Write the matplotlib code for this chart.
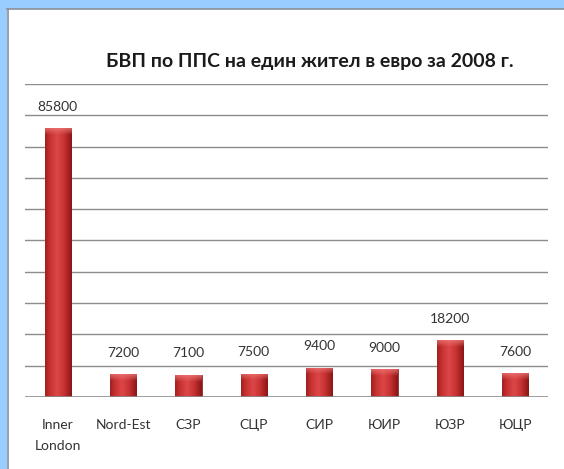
import numpy as np
import matplotlib.pyplot as plt
from matplotlib.patches import Rectangle
from matplotlib.colors import LinearSegmentedColormap, to_rgb

plt.rcParams['font.family'] = ['Lato', 'DejaVu Sans']

# данни
regions = ['Inner\nLondon', 'Nord-Est', 'СЗР', 'СЦР', 'СИР', 'ЮИР', 'ЮЗР', 'ЮЦР']
gdp = [85800, 7200, 7100, 7500, 9400, 9000, 18200, 7600]
title = 'БВП по ППС на един жител в евро за 2008 г.'

W, H = 564, 469
fig = plt.figure(figsize=(W / 100, H / 100), dpi=100)
fig.patch.set_facecolor('white')

# синя рамка отгоре и отляво
fig.patches.append(Rectangle((0, 1 - 9 / H), 1, 9 / H, transform=fig.transFigure,
                             facecolor='#99CCFF', edgecolor='none', zorder=0))
fig.patches.append(Rectangle((0, 0), 7 / W, 1, transform=fig.transFigure,
                             facecolor='#99CCFF', edgecolor='none', zorder=0))
fig.lines.append(plt.Line2D([7 / W, 1], [1 - 9.5 / H, 1 - 9.5 / H], transform=fig.transFigure,
                            color='#8a8f99', lw=1.2))
fig.lines.append(plt.Line2D([7.5 / W, 7.5 / W], [0, 1 - 9 / H], transform=fig.transFigure,
                            color='#8a8f99', lw=1.2))

ax = fig.add_axes([25 / W, 1 - 397 / H, (548 - 25) / W, (397 - 84) / H])
x = np.arange(len(regions))
ax.set_xlim(-0.5, len(regions) - 0.5)
ax.set_ylim(0, 100000)

# хоризонтални линии
for v in range(10000, 100001, 10000):
    ax.axhline(v, color='#8c8c8c', lw=1, zorder=1)
ax.axhline(0, color='#8c8c8c', lw=1.2, zorder=3)

bars = ax.bar(x, gdp, width=0.4, color='#c83434', edgecolor='#7a1414', lw=0.5, zorder=2)

# градиент за обемен вид
grad = np.linspace(0, 1, 64)
grad = 1 - np.abs(grad - 0.45) * 1.7
cmap = LinearSegmentedColormap.from_list('bar', ['#8a1616', '#c53030', '#dc4646'])
hl = np.zeros((32, 1, 4))
hl[:, 0, :3] = to_rgb('#f07a7a')
hl[:, 0, 3] = np.linspace(0.75, 0, 32)
for b in bars:
    bx, by = b.get_x(), b.get_y()
    bw, bh = b.get_width(), b.get_height()
    im = ax.imshow(grad[np.newaxis, :], extent=(bx, bx + bw, by, by + bh), cmap=cmap,
                   aspect='auto', zorder=2.1, interpolation='bicubic')
    im.set_clip_path(b)
    top = min(bh * 0.5, 2200)
    im2 = ax.imshow(hl, extent=(bx, bx + bw, by + bh - top, by + bh), aspect='auto',
                    zorder=2.2, interpolation='bilinear')
    im2.set_clip_path(b)

for xi, v in zip(x, gdp):
    ax.annotate(str(v), (xi, v), xytext=(0, 11), textcoords='offset points',
                ha='center', va='bottom', fontsize=10, color='#333333')

ax.set_xticks(x)
ax.set_xticklabels(regions, fontsize=10, color='#333333', linespacing=1.9)
ax.tick_params(axis='x', length=0, pad=16)
ax.set_yticks([])
for s in ax.spines.values():
    s.set_visible(False)

fig.text(310 / W, 1 - 61 / H, title, ha='center', va='center', fontsize=14,
         fontweight='bold', color='#1a1a1a')

fig.savefig('out.png', dpi=100)
